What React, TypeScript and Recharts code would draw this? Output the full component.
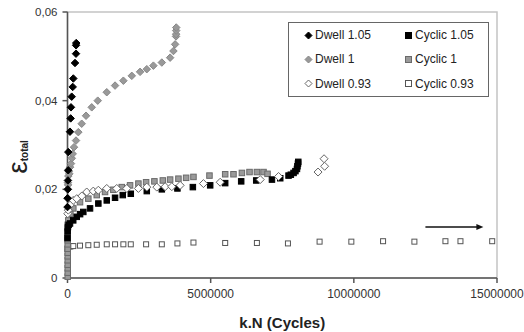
import {
  Legend,
  ReferenceArea,
  ReferenceDot,
  ReferenceLine,
  Scatter,
  ScatterChart,
  XAxis,
  YAxis,
} from "recharts";

type Pt = { x: number; y: number };

const pts = (rows: number[][]): Pt[] => rows.map(([x, y]) => ({ x, y }));

const xTicks = [0, 5000000, 10000000, 15000000];
const yTicks = [0, 0.02, 0.04, 0.06];

const dwell105 = pts([
  [0, 0.016], [5000, 0.018], [10000, 0.02], [15000, 0.022], [25000, 0.0243],
  [28000, 0.0284], [87000, 0.033], [110000, 0.036], [122000, 0.0385],
  [147000, 0.0409], [182000, 0.0431], [203000, 0.045], [262000, 0.0485],
  [297000, 0.0506], [300000, 0.0525], [305000, 0.053],
]);

const dwell1 = pts([
  [0, 0.018], [10000, 0.02], [15000, 0.0215], [20000, 0.021], [30000, 0.023],
  [45000, 0.024], [63000, 0.0235], [90000, 0.025], [122000, 0.0258],
  [150000, 0.027], [182000, 0.028], [227000, 0.0295], [297000, 0.031],
  [378000, 0.0329], [496000, 0.0348], [647000, 0.0366], [846000, 0.0385],
  [1056000, 0.04], [1371000, 0.0419], [1661000, 0.0434], [1951000, 0.0445],
  [2245000, 0.0456], [2535000, 0.0465], [2769000, 0.0471], [3000000, 0.0479],
  [3294000, 0.0486], [3584000, 0.0497], [3700000, 0.0512], [3759000, 0.0527],
  [3790000, 0.0545], [3794000, 0.055], [3796000, 0.0558], [3798000, 0.0565],
]);

const dwell093 = pts([
  [10000, 0.0145], [28000, 0.0153], [100000, 0.0165], [200000, 0.0175],
  [322000, 0.0179], [500000, 0.0185], [671000, 0.0194], [900000, 0.0196],
  [1077000, 0.0198], [1371000, 0.0202], [1720000, 0.0202], [2070000, 0.0202],
  [2476000, 0.0202], [2769000, 0.0205], [3119000, 0.0205], [3409000, 0.0206],
  [3643000, 0.0206], [3934000, 0.0209], [4748000, 0.0213], [5332000, 0.0216],
  [6731000, 0.0222], [7371000, 0.0229], [8750000, 0.0239], [8980000, 0.0252],
  [8960000, 0.0269],
]);

const cyclic105 = pts([
  [0, 0.009], [5000, 0.0105], [15000, 0.0115], [40000, 0.012], [87000, 0.0123],
  [200000, 0.013], [322000, 0.0138], [440000, 0.0144], [552000, 0.0149],
  [787000, 0.0157], [1077000, 0.0168], [1371000, 0.0175], [1661000, 0.0181],
  [1930000, 0.0187], [2210000, 0.019], [2769000, 0.0196], [3294000, 0.02],
  [3839000, 0.0202], [4378000, 0.0205], [4983000, 0.0209], [5507000, 0.0214],
  [6066000, 0.0218], [6591000, 0.022], [7140000, 0.0222], [7430000, 0.0225],
  [7720000, 0.0231], [7800000, 0.0233], [7895000, 0.0237], [7960000, 0.0241],
  [8014000, 0.0246], [8030000, 0.0252], [8049000, 0.0258], [8060000, 0.0262],
]);

const cyclic1 = pts([
  [8000, 0.0003], [8000, 0.0012], [8000, 0.0022], [8000, 0.003], [8000, 0.004],
  [8000, 0.0049], [8000, 0.0057], [8000, 0.0066], [8000, 0.0076], [8000, 0.0085],
  [8000, 0.0093], [8000, 0.0103], [8000, 0.0112], [8000, 0.012],
  [28000, 0.013], [100000, 0.0145], [203000, 0.0157], [437000, 0.0171],
  [727000, 0.0179], [1021000, 0.0187], [1311000, 0.0194], [1601000, 0.0199],
  [1895000, 0.0205], [2185000, 0.0209], [2476000, 0.0213], [2745000, 0.0216],
  [3035000, 0.0218], [3329000, 0.022], [3584000, 0.0222], [3874000, 0.0224],
  [4143000, 0.0226], [4399000, 0.0228], [4958000, 0.0231], [5507000, 0.0234],
  [5797000, 0.0234], [6091000, 0.0237], [6357000, 0.0239], [6615000, 0.0239],
  [6846000, 0.0239], [6986000, 0.0235],
]);

const cyclic093 = pts([
  [0, 0.0065], [10000, 0.0069], [28000, 0.007], [100000, 0.0071],
  [203000, 0.0072], [437000, 0.0073], [727000, 0.0074], [1021000, 0.0075],
  [1371000, 0.0076], [1661000, 0.0076], [1951000, 0.0076], [2210000, 0.0076],
  [2745000, 0.0076], [3294000, 0.0076], [3839000, 0.0078], [4399000, 0.008],
  [5507000, 0.0079], [6615000, 0.0079], [7699000, 0.0078], [8804000, 0.0082],
  [9913000, 0.0082], [11021000, 0.0083], [12115000, 0.0082], [13199000, 0.0083],
  [13724000, 0.0083], [14832000, 0.0083],
]);

// arrow pointing right, above the Cyclic 0.93 tail
const arrowFrom = { x: 12500000, y: 0.0115 };
const arrowTo = { x: 14350000, y: 0.0115 };

type MarkerKind = "diamond" | "square";

type SeriesDef = {
  name: string;
  data: Pt[];
  kind: MarkerKind;
  fill: string;
  stroke: string;
  size: number;
};

const series: SeriesDef[] = [
  { name: "Cyclic 0.93", data: cyclic093, kind: "square", fill: "#fff", stroke: "#555", size: 6 },
  { name: "Cyclic 1", data: cyclic1, kind: "square", fill: "#9a9a9a", stroke: "#6a6a6a", size: 6.5 },
  { name: "Cyclic 1.05", data: cyclic105, kind: "square", fill: "#000", stroke: "#000", size: 6.5 },
  { name: "Dwell 0.93", data: dwell093, kind: "diamond", fill: "#fff", stroke: "#666", size: 8 },
  { name: "Dwell 1", data: dwell1, kind: "diamond", fill: "#999", stroke: "#888", size: 7.5 },
  { name: "Dwell 1.05", data: dwell105, kind: "diamond", fill: "#000", stroke: "#000", size: 7.5 },
];

const legendOrder = [
  "Dwell 1.05", "Cyclic 1.05",
  "Dwell 1", "Cyclic 1",
  "Dwell 0.93", "Cyclic 0.93",
];

const FONT = "'Liberation Sans', Arial, sans-serif";

function Marker({ cx, cy, s }: { cx: number; cy: number; s: SeriesDef }) {
  const h = s.size / 2;
  if (s.kind === "square") {
    return (
      <rect x={cx - h + 0.5} y={cy - h + 0.5} width={s.size - 1} height={s.size - 1}
        fill={s.fill} stroke={s.stroke} strokeWidth={1} />
    );
  }
  return (
    <polygon
      points={`${cx},${cy - h} ${cx + h},${cy} ${cx},${cy + h} ${cx - h},${cy}`}
      fill={s.fill} stroke={s.stroke} strokeWidth={1}
    />
  );
}

function LegendBox() {
  return (
    <div
      style={{
        width: 199,
        height: 73,
        border: "1px solid #666",
        background: "#fff",
        display: "grid",
        gridTemplateColumns: "100px 99px",
        gridTemplateRows: "repeat(3, 24.3px)",
        alignContent: "center",
        fontFamily: FONT,
        fontSize: 12,
        color: "#222",
      }}
    >
      {legendOrder.map((n) => {
        const s = series.find((d) => d.name === n)!;
        const small = { ...s, size: 7 };
        return (
          <div key={n} style={{ display: "flex", alignItems: "center", paddingLeft: 15 }}>
            <svg width={9} height={9} style={{ marginRight: 2 }}>
              <Marker cx={4.5} cy={4.5} s={small} />
            </svg>
            <span>{n}</span>
          </div>
        );
      })}
    </div>
  );
}

function YLabel() {
  return (
    <text x={27} y={157} transform="rotate(-90 27 157)" textAnchor="middle"
      fontFamily={FONT} fill="#222">
      <tspan fontSize={28}>ε</tspan>
      <tspan fontSize={10} fontWeight="bold" dy={1}>total</tspan>
    </text>
  );
}

export default function App() {
  return (
    <div style={{ width: 524, height: 332, background: "#fff" }}>
      <style>{`body{margin:0}`}</style>
      <ScatterChart
        width={524}
        height={332}
        margin={{ top: 12, right: 27, bottom: 0, left: 0 }}
        style={{ fontFamily: FONT }}
      >
        <ReferenceArea x1={0} x2={15000000} y1={0} y2={0.06}
          fill="none" stroke="#c4c4c4" strokeWidth={1.5} />
        <XAxis
          type="number"
          dataKey="x"
          domain={[0, 15000000]}
          ticks={xTicks}
          height={54}
          tickFormatter={(v: number) => String(v)}
          tick={{ fontSize: 12, fill: "#333" }}
          tickSize={5}
          tickMargin={6}
          stroke="#555"
          strokeWidth={1.5}
          label={{
            value: "k.N (Cycles)",
            position: "insideBottom",
            offset: 4,
            style: { fontSize: 15, fontWeight: "bold", fill: "#222" },
          }}
        />
        <YAxis
          type="number"
          dataKey="y"
          domain={[0, 0.06]}
          ticks={yTicks}
          width={67.5}
          tickFormatter={(v: number) => (v === 0 ? "0" : v.toFixed(2).replace(".", ","))}
          tick={{ fontSize: 11.5, fill: "#333" }}
          tickSize={5}
          tickMargin={5}
          stroke="#555"
          strokeWidth={1.5}
          label={{ content: () => <YLabel /> }}
        />
        {series.map((s) => (
          <Scatter
            key={s.name}
            name={s.name}
            data={s.data}
            isAnimationActive={false}
            shape={(p: any) => <Marker cx={p.cx} cy={p.cy} s={s} />}
          />
        ))}
        <ReferenceLine
          segment={[arrowFrom, arrowTo]}
          stroke="#111"
          strokeWidth={1.5}
        />
        <ReferenceDot
          x={arrowTo.x}
          y={arrowTo.y}
          r={3}
          shape={(p: any) => (
            <polygon
              points={`${p.cx + 5},${p.cy} ${p.cx - 2},${p.cy - 3} ${p.cx - 2},${p.cy + 3}`}
              fill="#111"
            />
          )}
        />
        <Legend
          layout="vertical"
          align="center"
          verticalAlign="middle"
          content={() => <LegendBox />}
          wrapperStyle={{ left: 288, top: 22, width: 201, height: 75 }}
        />
      </ScatterChart>
    </div>
  );
}
